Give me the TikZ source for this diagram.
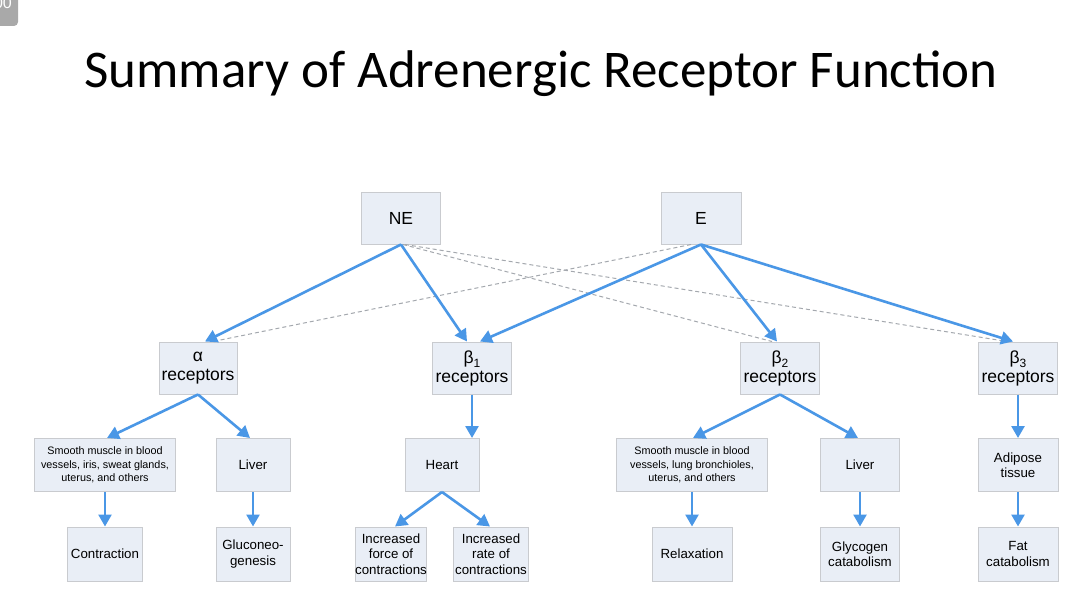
\documentclass[tikz,border=0pt]{standalone}
\usepackage{fontspec}
\setmainfont{Liberation Sans}
\newfontfamily\titlefont{Carlito}
\usetikzlibrary{arrows.meta}
\definecolor{boxfill}{HTML}{E9EEF6}
\definecolor{boxline}{HTML}{C9CBCF}
\definecolor{arrowblue}{HTML}{4A97E6}
\definecolor{dashgrey}{HTML}{A4A8AE}
\definecolor{badgegrey}{HTML}{A9A9A9}
\newcommand{\rsub}[1]{\raisebox{-4pt}{\fontsize{12}{12}\selectfont #1}}

\begin{document}
\begin{tikzpicture}[x=1pt,y=-1pt,
  box/.style={draw=boxline, fill=boxfill, line width=1pt, align=center,
              inner sep=0pt, text=black},
  big/.style={box, font=\fontsize{17.5}{19}\selectfont},
  mid/.style={box, font=\fontsize{13.3}{15.5}\selectfont},
  small/.style={box, font=\fontsize{10.8}{13.5}\selectfont},
  flow/.style={draw=arrowblue, line width=2.6pt,
               -{Triangle[length=12pt,width=13pt]}},
  link/.style={draw=dashgrey, line width=1pt, dash pattern=on 4pt off 3pt}]
\useasboundingbox (0,0) rectangle (1075,607);
\fill[white] (0,0) rectangle (1075,607);

% corner badge
\fill[badgegrey, rounded corners=4pt] (-20,-20) rectangle (18,26);
\node[text=white, font=\fontsize{16}{16}\selectfont] (badge) at (3,3) {00};

% title
\node[font=\titlefont\fontsize{53}{56}\selectfont] (title) at (541,74)
  {Summary of Adrenergic Receptor Function};

% hormones
\node[big, minimum width=79, minimum height=52] (NE) at (401,218) {NE};
\node[big, minimum width=80, minimum height=52] (E)  at (701,218) {E};

% receptors
\node[big, minimum width=78, minimum height=52] (alpha) at (198,368) {α\\receptors};
\node[big, minimum width=79, minimum height=52] (b1) at (472,368) {β\rsub{1}\\receptors};
\node[big, minimum width=79, minimum height=52] (b2) at (780,368) {β\rsub{2}\\receptors};
\node[big, minimum width=79, minimum height=52] (b3) at (1018,368) {β\rsub{3}\\receptors};

% tissues
\node[small, minimum width=141, minimum height=53] (smA) at (105,465)
  {Smooth muscle in blood\\vessels, iris, sweat glands,\\uterus, and others};
\node[mid, minimum width=74, minimum height=53] (livA) at (253,465) {Liver};
\node[mid, minimum width=74, minimum height=53] (heart) at (442,465) {Heart};
\node[small, minimum width=151, minimum height=53] (smB) at (692,465)
  {Smooth muscle in blood\\vessels, lung bronchioles,\\uterus, and others};
\node[mid, minimum width=79, minimum height=53] (livB) at (860,465) {Liver};
\node[mid, minimum width=80, minimum height=53] (adi) at (1018,465) {Adipose\\tissue};

% effects
\node[mid, minimum width=75, minimum height=54] (con) at (105,554) {Contraction};
\node[mid, minimum width=74, minimum height=54] (glu) at (253,554) {Gluconeo-\\genesis};
\node[mid, minimum width=71, minimum height=54] (force) at (391,554) {Increased\\force of\\contractions};
\node[mid, minimum width=75, minimum height=54] (rate) at (491,554) {Increased\\rate of\\contractions};
\node[mid, minimum width=80, minimum height=54] (rel) at (692,554) {Relaxation};
\node[mid, minimum width=79, minimum height=54] (gly) at (860,554) {Glycogen\\catabolism};
\node[mid, minimum width=80, minimum height=54] (fat) at (1018,554) {Fat\\catabolism};

% weak (dashed) affinities
\draw[link] ([xshift=2pt]NE.south) -- ([xshift=-8pt]b2.north);
\draw[link] ([xshift=4pt]NE.south) -- ([xshift=-11pt]b3.north);
\draw[link] ([xshift=-10pt]E.south) -- ([xshift=15pt]alpha.north);

% strong affinities
\draw[flow] (NE.south) -- ([xshift=7pt]alpha.north);
\draw[flow] (NE.south) -- ([xshift=-5pt]b1.north);
\draw[flow] (E.south) -- ([xshift=8pt]b1.north);
\draw[flow] (E.south) -- ([xshift=-3pt]b2.north);
\draw[flow] (E.south) -- ([xshift=-5pt]b3.north);

% receptor to tissue
\draw[flow] (alpha.south) -- ([xshift=2pt]smA.north);
\draw[flow] (alpha.south) -- ([xshift=-3pt]livA.north);
\draw[flow] (b1.south) -- (b1.south |- heart.north);
\draw[flow] (b2.south) -- ([xshift=1pt]smB.north);
\draw[flow] (b2.south) -- ([xshift=-2pt]livB.north);
\draw[flow] (b3.south) -- (adi.north);

% tissue to effect
\draw[flow] (smA.south) -- (con.north);
\draw[flow] (livA.south) -- (glu.north);
\draw[flow] (heart.south) -- ([xshift=4pt]force.north);
\draw[flow] (heart.south) -- ([xshift=-1pt]rate.north);
\draw[flow] (smB.south) -- (rel.north);
\draw[flow] (livB.south) -- (gly.north);
\draw[flow] (adi.south) -- (fat.north);
\end{tikzpicture}
\end{document}
